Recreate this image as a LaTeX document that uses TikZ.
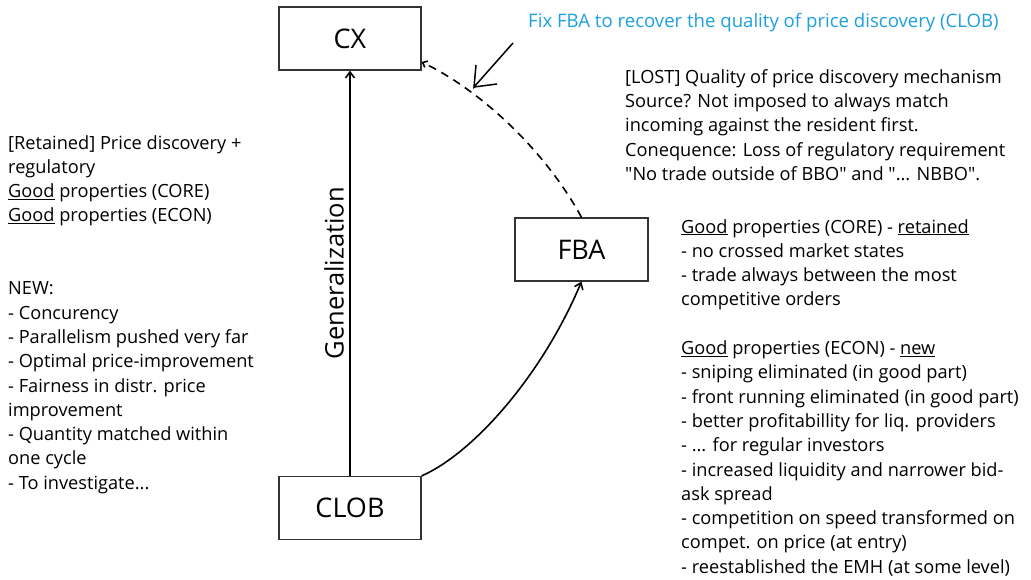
\documentclass[tikz,border=0pt]{standalone}
\usepackage{fontspec}
\setmainfont{Open Sans}
\usetikzlibrary{arrows.meta}
\definecolor{fixblue}{RGB}{28,160,222}
\newcommand{\ul}[1]{\underline{#1}}
\newcommand{\q}{\textquotedbl}
\begin{document}
\begin{tikzpicture}[x=1pt,y=-1pt,
  box/.style={draw=black!80,line width=1.2pt,minimum width=142pt,minimum height=63pt,inner sep=0pt,font=\fontsize{27}{30}\selectfont},
  txt/.style={anchor=north west,inner sep=0pt,align=left,font=\fontsize{18.2}{24.3}\selectfont},
  link/.style={line width=1.6pt,-{Straight Barb[length=6pt,width=9pt]}}]
\useasboundingbox (0,0) rectangle (1031,580);
\node[box] (cx) at (350,38.5) {CX};
\node[box] (clob) at (350,508) {CLOB};
\node[box,minimum width=133pt] (fba) at (581.5,249.5) {FBA};

% generalization arrow
\draw[link] (clob.north) -- node[pos=0.5,left=2pt,rotate=90,anchor=south,font=\fontsize{25.5}{27}\selectfont] {Generalization} (cx.south);
% CLOB to FBA
\draw[link] (clob.north east) .. controls (470,455) and (540,380) .. (fba.south);
% FBA back to CX, dashed
\draw[line width=1.6pt,dash pattern=on 8pt off 6pt,-{Straight Barb[length=4pt,width=7pt]}] (fba.north) .. controls (545,150) and (480,90) .. (cx.south east |- 0,62);

% hand-drawn pointer
\coordinate (ptip) at (474,87);
\coordinate (ptail) at (513,43);
\draw[line width=1.5pt] (ptail) -- (ptip) -- (476,65);
\draw[line width=1.5pt] (ptip) -- (497,84);

\node[anchor=west,inner sep=0pt,text=fixblue,font=\fontsize{18.6}{20}\selectfont] (fix) at (528,23) {Fix FBA to recover the quality of price discovery (CLOB)};

\node[txt] (left) at (8,135) {[Retained] Price discovery +\\regulatory\\\ul{Good} properties (CORE)\\\ul{Good} properties (ECON)\\[48.6pt]NEW:\\- Concurency\\- Parallelism pushed very far\\- Optimal price-improvement\\- Fairness in distr. price\\improvement\\- Quantity matched within\\one cycle\\- To investigate...};

\node[txt] (lost) at (625,69) {[LOST] Quality of price discovery mechanism\\Source? Not imposed to always match\\incoming against the resident first.\\Conequence: Loss of regulatory requirement\\\q No trade outside of BBO\q{} and \q... NBBO\q.};

\node[txt] (props) at (681,219) {\ul{Good} properties (CORE) - \ul{retained}\\- no crossed market states\\- trade always between the most\\competitive orders\\[24.3pt]\ul{Good} properties (ECON) - \ul{new}\\- sniping eliminated (in good part)\\- front running eliminated (in good part)\\- better profitabillity for liq. providers\\- ... for regular investors\\- increased liquidity and narrower bid-\\ask spread\\- competition on speed transformed on\\compet. on price (at entry)\\- reestablished the EMH (at some level)};
\end{tikzpicture}
\end{document}
